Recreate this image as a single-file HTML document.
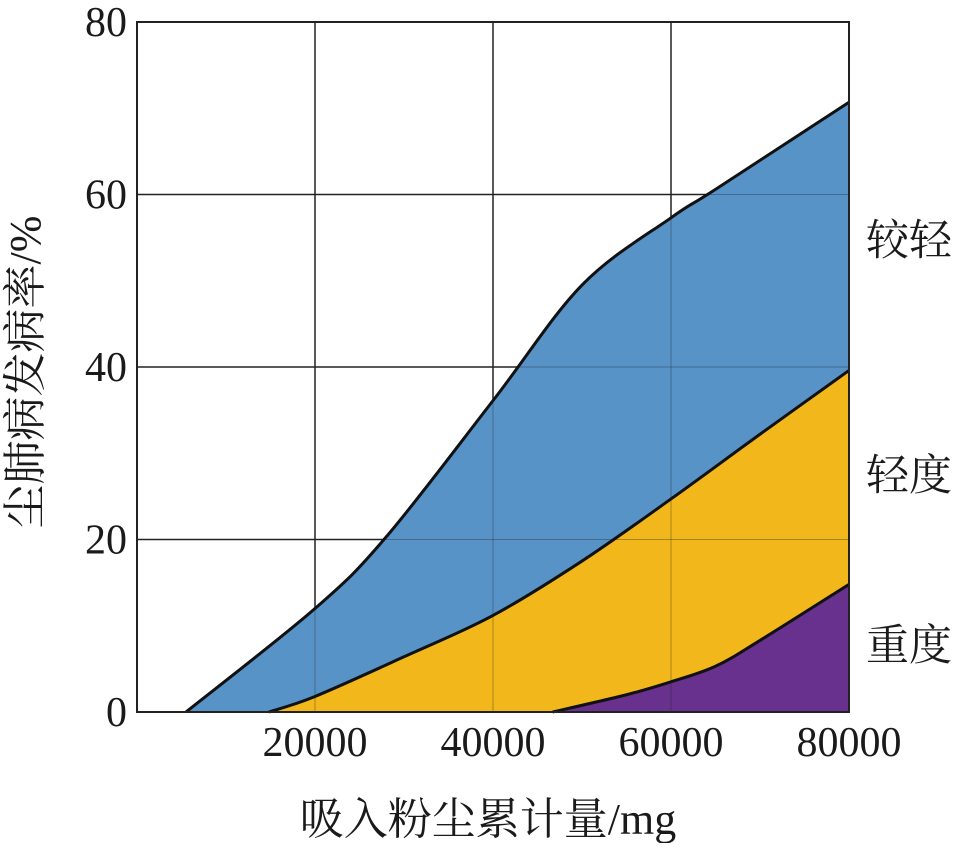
<!DOCTYPE html>
<html><head><meta charset="utf-8"><style>
body{margin:0;background:#fff}
text{font-family:"Liberation Serif","Noto Serif CJK SC",serif;fill:#1a1a1a}
</style></head><body>
<svg id="chart" width="957" height="843" viewBox="0 0 957 843" xmlns="http://www.w3.org/2000/svg"></svg>
<script>
const xTicks=[20000,40000,60000,80000];
const yTicks=[0,20,40,60,80];
const xLight=[5500,20000,28000,40000,50000,60000,65000,80000];
const yLight=[0,12.0,20.3,36.1,49.5,57.3,60.6,70.7];
const xMild=[14800,20000,30000,40000,50000,60000,70000,80000];
const yMild=[0,1.8,6.4,11.2,17.5,24.7,32.2,39.6];
const xSevere=[46700,55000,60000,65000,70000,80000];
const ySevere=[0,2.0,3.5,5.3,8.3,14.8];
const labels=["较轻","轻度","重度"];
const labelY=[240,475,645];
const svg=document.getElementById('chart');const NS='http://www.w3.org/2000/svg';
const X=v=>137+v/80000*712, Y=v=>712-v/80*690;
function el(t,a,p){const e=document.createElementNS(NS,t);for(const k in a)e.setAttribute(k,a[k]);(p||svg).appendChild(e);return e;}
function smooth(xs,ys){const p=xs.map((x,i)=>[X(x),Y(ys[i])]);let d='';for(let i=0;i<p.length-1;i++){const p0=p[Math.max(0,i-1)],p1=p[i],p2=p[i+1],p3=p[Math.min(p.length-1,i+2)];
const c1=[p1[0]+(p2[0]-p0[0])/6,p1[1]+(p2[1]-p0[1])/6],c2=[p2[0]-(p3[0]-p1[0])/6,p2[1]-(p3[1]-p1[1])/6];d+=` C${c1} ${c2} ${p2}`;}return {start:p[0],d};}
xTicks.forEach(t=>{const l=el('line',{x1:X(t),x2:X(t),y1:Y(80),y2:Y(0),stroke:'#222','stroke-width':1.5});
});
yTicks.forEach(t=>{const l=el('line',{x1:X(0),x2:X(80000),y1:Y(t),y2:Y(t),stroke:'#222','stroke-width':1.5});
});
const series=[[xLight,yLight,'#5893c8','area-light'],[xMild,yMild,'#f2b81b','area-mild'],[xSevere,ySevere,'#67318d','area-severe']];
series.forEach(s=>{const c=smooth(s[0],s[1]);const e=el('path',{d:`M${c.start}${c.d} L${X(80000)},${Y(0)} Z`,fill:s[2]});
});
xTicks.forEach(t=>{el('line',{x1:X(t),x2:X(t),y1:Y(80),y2:Y(0),stroke:'#222','stroke-width':1,opacity:0.35});});
yTicks.forEach(t=>{el('line',{x1:X(0),x2:X(80000),y1:Y(t),y2:Y(t),stroke:'#222','stroke-width':1,opacity:0.35});});
series.forEach(s=>{const c=smooth(s[0],s[1]);const e=el('path',{d:`M${c.start}${c.d}`,fill:'none',stroke:'#111','stroke-width':3});
});
const f=el('rect',{x:X(0),y:Y(80),width:X(80000)-X(0),height:Y(0)-Y(80),fill:'none',stroke:'#222','stroke-width':2});

yTicks.forEach(t=>{const e=el('text',{x:127,y:Y(t)+14,'text-anchor':'end','font-size':42});e.textContent=t;
});
xTicks.forEach(t=>{const e=el('text',{x:X(t),y:756,'text-anchor':'middle','font-size':42});e.textContent=t;
});
labels.forEach((t,i)=>{const e=el('text',{x:866,y:labelY[i]+15,'font-size':43});e.textContent=t;
});
const xt=el('text',{x:488,y:834,'text-anchor':'middle','font-size':44});xt.textContent='吸入粉尘累计量/mg';

const yt=el('text',{x:0,y:0,'text-anchor':'middle','font-size':44,transform:'translate(40,372) rotate(-90)'});yt.textContent='尘肺病发病率/%';

</script>
</body></html>
